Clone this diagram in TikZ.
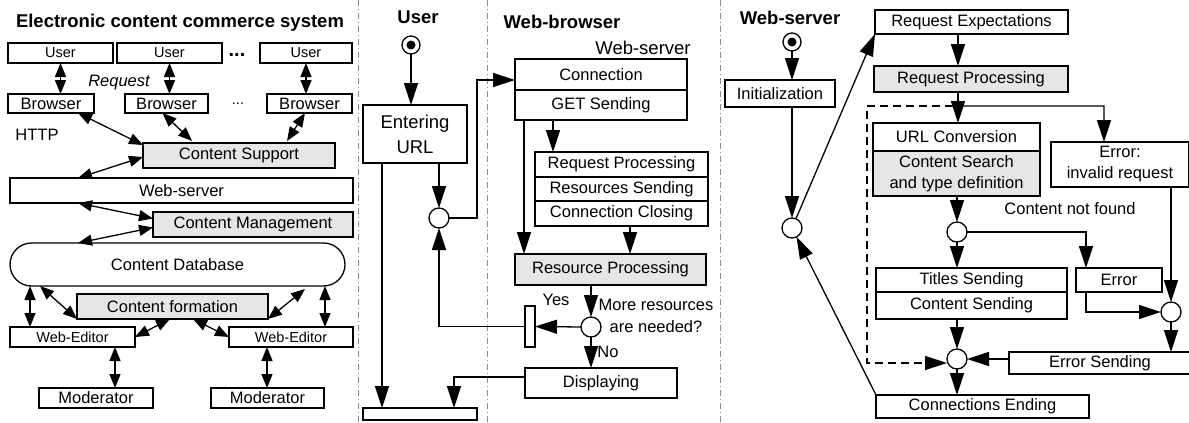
\documentclass[tikz,border=0pt]{standalone}
\usepackage{fontspec}
\setmainfont{Liberation Sans}
\usetikzlibrary{arrows.meta, positioning, calc}
\definecolor{blockgray}{RGB}{230, 230, 230}
\definecolor{dividercolor}{RGB}{140, 140, 140}

\begin{document}
\begin{tikzpicture}[
        x=1pt, y=-1pt,
        every node/.style={outer sep=0pt},
        flowstep/.style={rectangle, draw, line width=1.3pt, inner sep=1pt, align=center, font=\fontsize{16.5}{21}\selectfont},
        smallstep/.style={flowstep, font=\fontsize{14.5}{17}\selectfont},
        shaded/.style={fill=blockgray},
        junction/.style={circle, draw, line width=1.3pt, fill=white, minimum size=20pt, inner sep=0pt},
        startpoint/.style={circle, draw, line width=1.3pt, minimum size=18pt, inner sep=0pt, path picture={\fill (path picture bounding box.center) circle (4.5pt);}},
        syncbar/.style={draw, line width=1.3pt, inner sep=0pt},
        heading/.style={inner sep=0pt, font=\fontsize{18.5}{21}\selectfont\bfseries},
        labeltext/.style={inner sep=0pt, align=center, font=\fontsize{16.5}{22}\selectfont},
        arrow/.style={line width=1.3pt, -{Triangle[length=22pt, width=14pt]}},
        duplex/.style={line width=1.3pt, {Triangle[length=14pt, width=11pt]}-{Triangle[length=14pt, width=11pt]}},
        divider/.style={dividercolor, line width=1pt, dash pattern=on 6pt off 3pt on 1pt off 3pt}
    ]
        \useasboundingbox (0,0) rectangle (1189,423);
        \clip (0,0) rectangle (1189,423);

        % Panel dividers
        \draw [divider] (358,0) -- (358,423);
        \draw [divider] (487,0) -- (487,423);
        \draw [divider] (720,0) -- (720,423);

        % Electronic content commerce system
        \node (sysTitle) [heading] at (180,23) {Electronic content commerce system};
        \node (user1) [smallstep, minimum width=105pt, minimum height=20pt] at (60.5,53) {User};
        \node (user2) [smallstep, minimum width=105pt, minimum height=20pt] at (169.5,53) {User};
        \node (userDots) [labeltext, font=\fontsize{20}{22}\selectfont\bfseries] at (237,55) {...};
        \node (user3) [smallstep, minimum width=92pt, minimum height=20pt] at (306,53) {User};
        \node (request) [labeltext, font=\fontsize{16.5}{19}\selectfont\itshape] at (119,83) {Request};
        \node (browser1) [flowstep, minimum width=86pt, minimum height=19pt] at (51,103.5) {Browser};
        \node (browser2) [flowstep, minimum width=83pt, minimum height=19pt] at (166.5,103.5) {Browser};
        \node (browserDots) [labeltext, font=\fontsize{14.5}{17}\selectfont] at (238,104) {...};
        \node (browser3) [flowstep, minimum width=85pt, minimum height=19pt] at (309.5,103.5) {Browser};
        \node (http) [labeltext] at (37,135) {HTTP};
        \node (csupport) [flowstep, shaded, minimum width=192pt, minimum height=25pt] at (239,155.5) {Content Support};
        \node (webServer) [flowstep, minimum width=343pt, minimum height=25pt] at (181.5,190.5) {Web-server};
        \node (cmanage) [flowstep, shaded, minimum width=200pt, minimum height=25pt] at (253,224.5) {Content Management};
        \node (contentDB) [flowstep, rounded corners=21.5pt, minimum width=335pt, minimum height=43pt] at (177.5,264.5) {Content Database};
        \node (cform) [flowstep, shaded, minimum width=191pt, minimum height=25pt] at (172.5,306.5) {Content formation};
        \node (editor1) [smallstep, minimum width=125pt, minimum height=20pt] at (72.5,337) {Web-Editor};
        \node (editor2) [smallstep, minimum width=124pt, minimum height=20pt] at (291,337) {Web-Editor};
        \node (moderator1) [flowstep, minimum width=114pt, minimum height=20pt] at (96,398) {Moderator};
        \node (moderator2) [flowstep, minimum width=113pt, minimum height=20pt] at (267.5,398) {Moderator};

        \draw [duplex] (user1.south) -- (user1.south |- browser1.north);
        \draw [duplex] (user2.south) -- (user2.south |- browser2.north);
        \draw [duplex] (user3.south) -- (user3.south |- browser3.north);
        \draw [duplex] ([xshift=27pt]browser1.south) -- ([yshift=-2pt]csupport.north west);
        \draw [duplex] ([xshift=-4pt]browser2.south) -- ([xshift=49pt, yshift=2pt]csupport.north west);
        \draw [duplex] ([xshift=-4.5pt]browser3.south) -- ([xshift=-48pt, yshift=2pt]csupport.north east);
        \draw [duplex] ([xshift=-103.5pt]webServer.north) -- ([yshift=-1.5pt]csupport.west);
        \draw [duplex] ([xshift=-103.5pt]webServer.south) -- ([yshift=6pt]cmanage.west);
        \draw [duplex] ([xshift=-99.5pt]contentDB.north) -- ([yshift=-3pt]cmanage.west);
        \draw [duplex] ([xshift=20pt]editor1.north west) -- ([xshift=20pt]editor1.north west |- contentDB.south);
        \draw [duplex] ([xshift=-28pt]editor2.north east) -- ([xshift=-28pt]editor2.north east |- contentDB.south);
        \draw [duplex] ([xshift=-137.5pt]contentDB.south) -- (cform.south west);
        \draw [duplex] (cform.south east) -- ([xshift=127.5pt, yshift=-3pt]contentDB.south);
        \draw [duplex] (editor1.east) -- ([xshift=-2.5pt]cform.south);
        \draw [duplex] ([xshift=20.5pt]cform.south) -- (editor2.west);
        \draw [duplex] ([xshift=42.5pt]editor1.south) -- ([xshift=42.5pt]editor1.south |- moderator1.north);
        \draw [duplex] ([xshift=-24pt]editor2.south) -- ([xshift=-24pt]editor2.south |- moderator2.north);

        % User and Web-browser
        \node (userTitle) [heading] at (418,17) {User};
        \node (userStart) [startpoint] at (411,45) {};
        \node (entering) [flowstep, minimum width=104pt, minimum height=58pt, font=\fontsize{18.5}{25}\selectfont] at (415,134) {Entering\\URL};
        \node (browserTitle) [heading] at (562,22) {Web-browser};
        \node (serverLabel) [labeltext, font=\fontsize{18.5}{21}\selectfont] at (643,48) {Web-server};
        \node (connection) [flowstep, minimum width=172pt, minimum height=31pt] at (601,74.5) {Connection};
        \node (getSending) [flowstep, minimum width=172pt, minimum height=30pt, below=0pt of connection] {GET Sending};
        \node (reqProcessing) [flowstep, minimum width=173pt, minimum height=25pt] at (621.5,164.5) {Request Processing};
        \node (resSending) [flowstep, minimum width=173pt, minimum height=24pt, below=0pt of reqProcessing] {Resources Sending};
        \node (connClosing) [flowstep, minimum width=173pt, minimum height=25pt, below=0pt of resSending] {Connection Closing};
        \node (resProcessing) [flowstep, shaded, minimum width=191pt, minimum height=31pt] at (610.5,269.5) {Resource Processing};
        \node (loopJoin) [junction] at (439,218) {};
        \node (moreCheck) [junction] at (591,327) {};
        \node (moreLabel) [labeltext] at (656,316) {More resources\\are needed?};
        \node (yesLabel) [labeltext] at (556,300) {Yes};
        \node (noLabel) [labeltext] at (608,352) {No};
        \node (forkBar) [syncbar, minimum width=10pt, minimum height=41pt] at (530,326.5) {};
        \node (displaying) [flowstep, minimum width=152pt, minimum height=30pt] at (601,383) {Displaying};
        \node (endBar) [syncbar, minimum width=114pt, minimum height=12pt] at (420,414) {};

        \draw [arrow] (userStart) -- (userStart |- entering.north);
        \draw [arrow] (loopJoin |- entering.south) -- (loopJoin);
        \draw [arrow] (loopJoin.east) -- ++(28,0) |- ([yshift=-5.5pt]connection.west);
        \draw [arrow] ([xshift=-77pt]getSending.south) -- ([xshift=-77pt]getSending.south |- resProcessing.north);
        \draw [arrow] ([xshift=-48pt]getSending.south) -- ([xshift=-48pt]getSending.south |- reqProcessing.north);
        \draw [arrow] ([xshift=8.5pt]connClosing.south) -- ([xshift=8.5pt]connClosing.south |- resProcessing.north);
        \draw [arrow] (moreCheck |- resProcessing.south) -- (moreCheck);
        \draw [arrow] (moreCheck.west) -- (forkBar.east);
        \draw [arrow] (forkBar.west) -| (loopJoin.south);
        \draw [arrow] (moreCheck) -- (moreCheck |- displaying.north);
        \draw [arrow] ([yshift=6pt]displaying.west) -| ([xshift=34pt]endBar.north);
        \draw [arrow] ([xshift=-33pt]entering.south) -- ([xshift=-33pt]entering.south |- endBar.north);

        % Web-server
        \node (serverTitle) [heading] at (790,18) {Web-server};
        \node (serverStart) [startpoint] at (792,42) {};
        \node (init) [flowstep, minimum width=110pt, minimum height=27pt] at (780,93.5) {Initialization};
        \node (cycleJoin) [junction] at (792,228) {};
        \node (reqExpect) [flowstep, minimum width=193pt, minimum height=24pt] at (971.5,22) {Request Expectations};
        \node (reqProcess) [flowstep, shaded, minimum width=194pt, minimum height=26pt] at (971,79) {Request Processing};
        \node (urlConv) [flowstep, minimum width=167pt, minimum height=28pt] at (956.5,137) {URL Conversion};
        \node (contentSearch) [flowstep, shaded, minimum width=167pt, minimum height=45pt, below=0pt of urlConv] {Content Search\\and type definition};
        \node (errInvalid) [flowstep, minimum width=138pt, minimum height=45pt] at (1120,164.5) {Error:\\invalid request};
        \node (foundCheck) [junction] at (957,232) {};
        \node (notFound) [labeltext] at (1070,209) {Content not found};
        \node (titles) [flowstep, minimum width=191pt, minimum height=24pt] at (971.5,280) {Titles Sending};
        \node (contentSend) [flowstep, minimum width=191pt, minimum height=27pt, below=0pt of titles] {Content Sending};
        \node (error) [flowstep, minimum width=86pt, minimum height=24pt] at (1119,280) {Error};
        \node (errJoin) [junction] at (1171,312) {};
        \node (errSending) [flowstep, minimum width=182pt, minimum height=22pt] at (1100,363) {Error Sending};
        \node (finalJoin) [junction] at (957,359) {};
        \node (connEnd) [flowstep, minimum width=213pt, minimum height=23pt] at (982.5,406.5) {Connections Ending};
        \coordinate (fork) at (958,106);
        \coordinate (bypass) at (867,106);

        \draw [arrow] (serverStart) -- (serverStart |- init.north);
        \draw [arrow] (cycleJoin |- init.south) -- (cycleJoin);
        \draw [arrow] (cycleJoin) -- (reqExpect.south west);
        \draw [arrow] (fork |- reqExpect.south) -- (fork |- reqProcess.north);
        \draw [arrow] (fork |- reqProcess.south) -- (fork |- urlConv.north);
        \draw [arrow] ([xshift=-5pt]fork) arc[start angle=180, end angle=0, radius=5pt] -| ([xshift=-16pt]errInvalid.north);
        \draw [arrow, dash pattern=on 8pt off 5pt] ([xshift=-5pt]fork) -- (bypass) |- ([yshift=-4pt]finalJoin.west);
        \draw [arrow] (foundCheck |- contentSearch.south) -- (foundCheck);
        \draw [arrow] (foundCheck.east) -| ([xshift=-33pt]error.north);
        \draw [arrow] (foundCheck) -- (foundCheck |- titles.north);
        \draw [arrow] ([xshift=-33pt]error.south) |- (errJoin.west);
        \draw [arrow] (errJoin |- errInvalid.south) -- (errJoin);
        \draw [arrow] (errJoin) -- (errJoin |- errSending.north);
        \draw [arrow] (errSending.west |- finalJoin) -- (finalJoin);
        \draw [arrow] (finalJoin |- contentSend.south) -- (finalJoin);
        \draw [arrow] (finalJoin) -- (finalJoin |- connEnd.north);
        \draw [arrow] (connEnd.north west) -- (cycleJoin);
    \end{tikzpicture}
\end{document}
